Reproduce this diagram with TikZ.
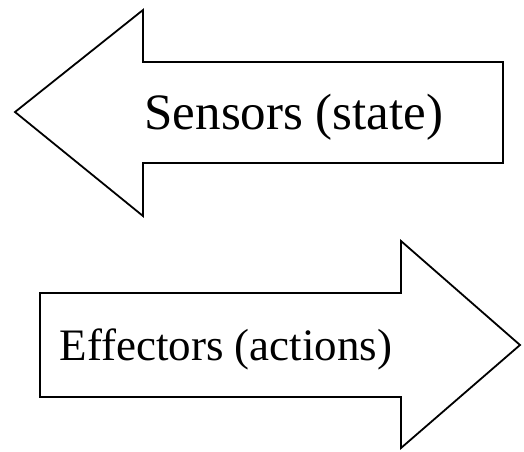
\documentclass[tikz,border=0pt]{standalone}
\usepackage{fontspec}
\setmainfont{Liberation Serif}
\begin{document}
\begin{tikzpicture}[x=1pt,y=-1pt,
  bigarrow/.style={draw=black,line width=1.8pt,line join=miter,fill=white},
  label/.style={inner sep=0pt}]
\useasboundingbox (0,0) rectangle (524,451);
% left-pointing arrow
\draw[bigarrow] (15,112) -- (143,10) -- (143,62) -- (503,62) -- (503,163)
  -- (143,163) -- (143,216) -- cycle;
\node[label,font=\fontsize{51}{58}\selectfont] (sensors) at (294,117) {Sensors (state)};
% right-pointing arrow
\draw[bigarrow] (40,293) -- (401,293) -- (401,241) -- (520,345) -- (401,448)
  -- (401,397) -- (40,397) -- cycle;
\node[label,font=\fontsize{45}{52}\selectfont] (effectors) at (226,349) {Effectors (actions)};
\end{tikzpicture}
\end{document}
